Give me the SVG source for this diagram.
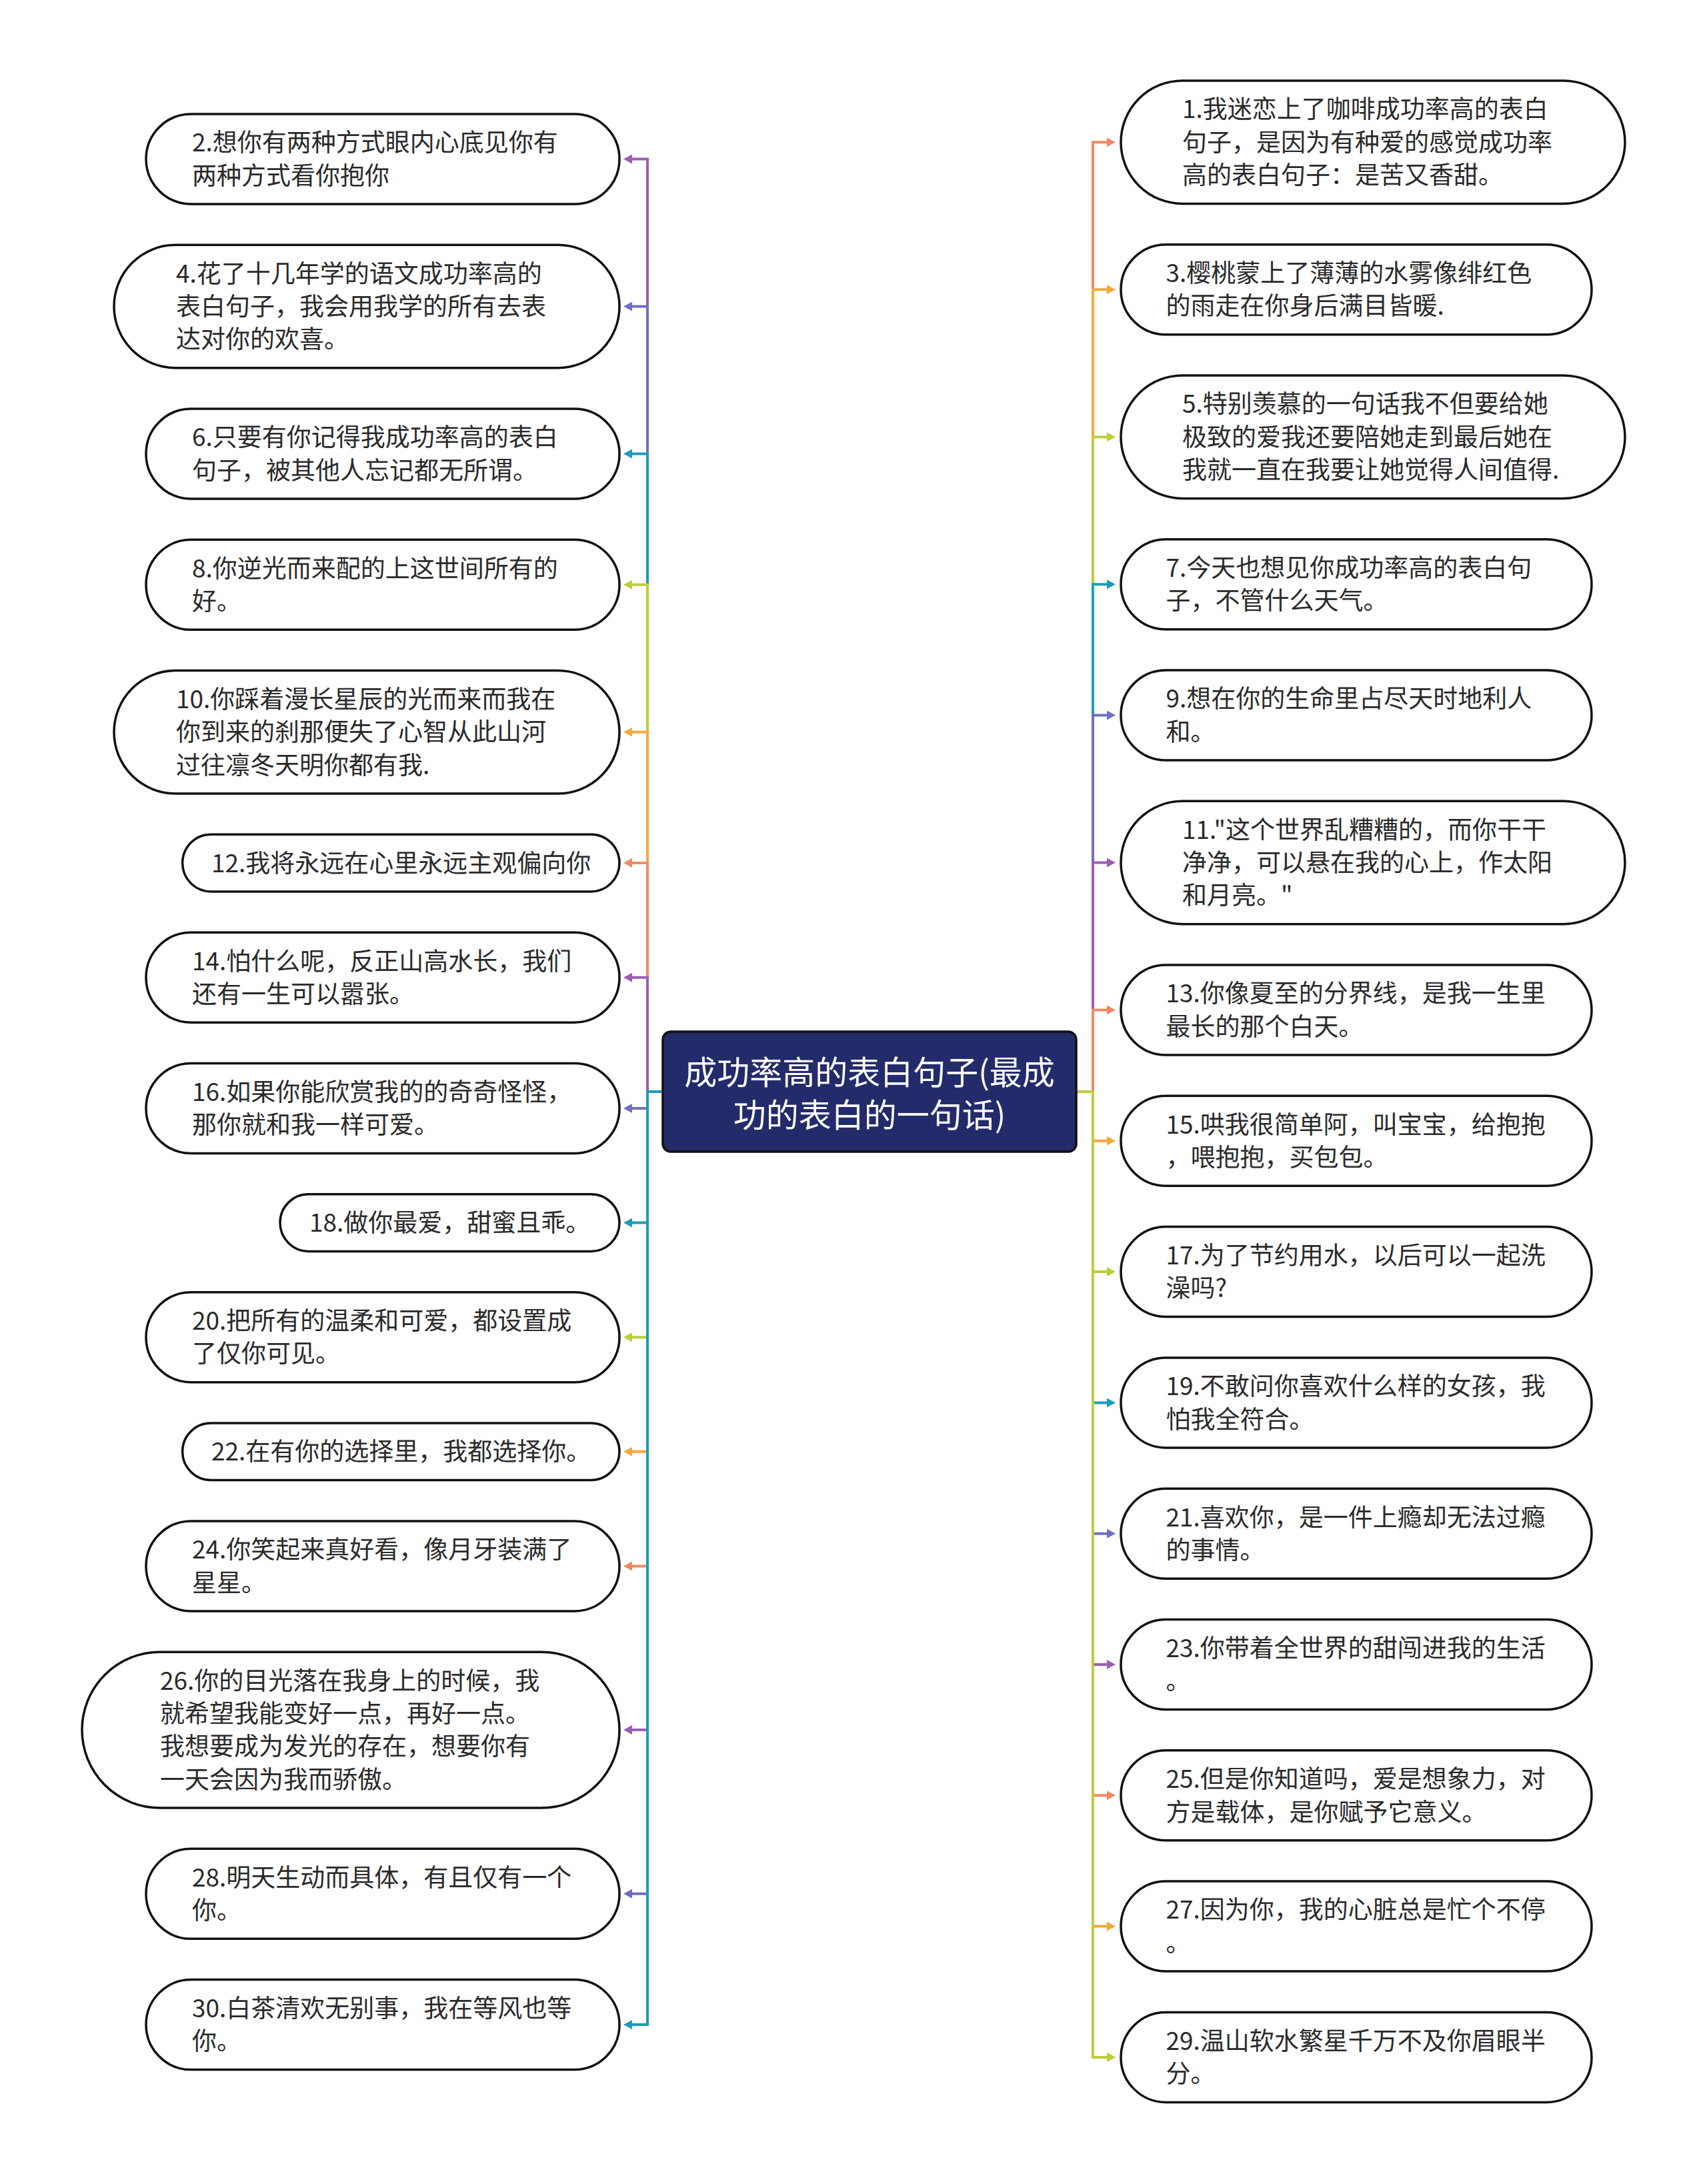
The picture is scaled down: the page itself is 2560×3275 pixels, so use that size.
<svg xmlns="http://www.w3.org/2000/svg" width="2560" height="3275" viewBox="0 0 2560 3275">
<style>
.n{fill:#ffffff;stroke:#111111;stroke-width:3.5}
.t{font-family:"Noto Sans CJK SC","Noto Sans",sans-serif;font-size:37px;fill:#2a2a2a}
.c{fill:none;stroke-width:4;stroke-linejoin:miter}
.root{fill:#232b6b;stroke:#111111;stroke-width:3.5}
.rt{font-family:"Noto Sans CJK SC","Noto Sans",sans-serif;font-size:49px;fill:#ffffff;text-anchor:middle}
.co{stroke:#ef8a63}.or{stroke:#f5a83e}.yg{stroke:#bccd3a}.te{stroke:#1e9bb8}.in{stroke:#6f6fc0}.pu{stroke:#9b5eb3}
</style>
<defs>
<marker id="a-co" markerUnits="userSpaceOnUse" markerWidth="13" markerHeight="14" refX="1" refY="7" orient="auto"><path d="M0,0 L13,7 L0,14 z" fill="#ef8a63"/></marker>
<marker id="a-or" markerUnits="userSpaceOnUse" markerWidth="13" markerHeight="14" refX="1" refY="7" orient="auto"><path d="M0,0 L13,7 L0,14 z" fill="#f5a83e"/></marker>
<marker id="a-yg" markerUnits="userSpaceOnUse" markerWidth="13" markerHeight="14" refX="1" refY="7" orient="auto"><path d="M0,0 L13,7 L0,14 z" fill="#bccd3a"/></marker>
<marker id="a-te" markerUnits="userSpaceOnUse" markerWidth="13" markerHeight="14" refX="1" refY="7" orient="auto"><path d="M0,0 L13,7 L0,14 z" fill="#1e9bb8"/></marker>
<marker id="a-in" markerUnits="userSpaceOnUse" markerWidth="13" markerHeight="14" refX="1" refY="7" orient="auto"><path d="M0,0 L13,7 L0,14 z" fill="#6f6fc0"/></marker>
<marker id="a-pu" markerUnits="userSpaceOnUse" markerWidth="13" markerHeight="14" refX="1" refY="7" orient="auto"><path d="M0,0 L13,7 L0,14 z" fill="#9b5eb3"/></marker>
</defs>
<rect width="2560" height="3275" fill="#ffffff"/>

<g id="connectors">
<path class="c pu" marker-end="url(#a-pu)" d="M994,1637 H971 V238.5 H947"/>
<path class="c in" marker-end="url(#a-in)" d="M994,1637 H971 V459.5 H947"/>
<path class="c te" marker-end="url(#a-te)" d="M994,1637 H971 V680.5 H947"/>
<path class="c yg" marker-end="url(#a-yg)" d="M994,1637 H971 V876.8 H947"/>
<path class="c or" marker-end="url(#a-or)" d="M994,1637 H971 V1097.8 H947"/>
<path class="c co" marker-end="url(#a-co)" d="M994,1637 H971 V1294.1 H947"/>
<path class="c pu" marker-end="url(#a-pu)" d="M994,1637 H971 V1465.7 H947"/>
<path class="c in" marker-end="url(#a-in)" d="M994,1637 H971 V1662 H947"/>
<path class="c te" marker-end="url(#a-te)" d="M994,1637 H971 V1833.6 H947"/>
<path class="c yg" marker-end="url(#a-yg)" d="M994,1637 H971 V2005.2 H947"/>
<path class="c or" marker-end="url(#a-or)" d="M994,1637 H971 V2176.8 H947"/>
<path class="c co" marker-end="url(#a-co)" d="M994,1637 H971 V2348.4 H947"/>
<path class="c pu" marker-end="url(#a-pu)" d="M994,1637 H971 V2594.1 H947"/>
<path class="c in" marker-end="url(#a-in)" d="M994,1637 H971 V2839.8 H947"/>
<path class="c te" marker-end="url(#a-te)" d="M994,1637 H971 V3036.1 H947"/>

<path class="c co" marker-end="url(#a-co)" d="M1614,1637 H1639 V213.2 H1661"/>
<path class="c or" marker-end="url(#a-or)" d="M1614,1637 H1639 V434.2 H1661"/>
<path class="c yg" marker-end="url(#a-yg)" d="M1614,1637 H1639 V655.2 H1661"/>
<path class="c te" marker-end="url(#a-te)" d="M1614,1637 H1639 V876.2 H1661"/>
<path class="c in" marker-end="url(#a-in)" d="M1614,1637 H1639 V1072.5 H1661"/>
<path class="c pu" marker-end="url(#a-pu)" d="M1614,1637 H1639 V1293.5 H1661"/>
<path class="c co" marker-end="url(#a-co)" d="M1614,1637 H1639 V1514.5 H1661"/>
<path class="c or" marker-end="url(#a-or)" d="M1614,1637 H1639 V1710.8 H1661"/>
<path class="c yg" marker-end="url(#a-yg)" d="M1614,1637 H1639 V1907.1 H1661"/>
<path class="c te" marker-end="url(#a-te)" d="M1614,1637 H1639 V2103.4 H1661"/>
<path class="c in" marker-end="url(#a-in)" d="M1614,1637 H1639 V2299.7 H1661"/>
<path class="c pu" marker-end="url(#a-pu)" d="M1614,1637 H1639 V2496 H1661"/>
<path class="c co" marker-end="url(#a-co)" d="M1614,1637 H1639 V2692.3 H1661"/>
<path class="c or" marker-end="url(#a-or)" d="M1614,1637 H1639 V2888.6 H1661"/>
<path class="c yg" marker-end="url(#a-yg)" d="M1614,1637 H1639 V3084.9 H1661"/>
</g>

<g id="root">
<rect class="root" x="994" y="1547" width="620" height="180" rx="12"/>
<text class="rt" x="1304" y="1626">成功率高的表白句子(最成</text>
<text class="rt" x="1304" y="1690">功的表白的一句话)</text>
</g>

<g id="n2"><rect class="n" x="219" y="171" width="710" height="135" rx="67.5"/>
<text class="t" x="288" y="227.3">2.想你有两种方式眼内心底见你有</text><text class="t" x="288" y="276.7">两种方式看你抱你</text></g>
<g id="n4"><rect class="n" x="171" y="367.3" width="758" height="184.4" rx="92.2"/>
<text class="t" x="264" y="423.6">4.花了十几年学的语文成功率高的</text><text class="t" x="264" y="473">表白句子，我会用我学的所有去表</text><text class="t" x="264" y="522.4">达对你的欢喜。</text></g>
<g id="n6"><rect class="n" x="219" y="613" width="710" height="135" rx="67.5"/>
<text class="t" x="288" y="669.3">6.只要有你记得我成功率高的表白</text><text class="t" x="288" y="718.7">句子，被其他人忘记都无所谓。</text></g>
<g id="n8"><rect class="n" x="219" y="809.3" width="710" height="135" rx="67.5"/>
<text class="t" x="288" y="865.6">8.你逆光而来配的上这世间所有的</text><text class="t" x="288" y="915">好。</text></g>
<g id="n10"><rect class="n" x="171" y="1005.6" width="758" height="184.4" rx="92.2"/>
<text class="t" x="264" y="1061.9">10.你踩着漫长星辰的光而来而我在</text><text class="t" x="264" y="1111.3">你到来的刹那便失了心智从此山河</text><text class="t" x="264" y="1160.7">过往凛冬天明你都有我.</text></g>
<g id="n12"><rect class="n" x="273.6" y="1251.3" width="655.4" height="85.6" rx="42.8"/>
<text class="t" x="317" y="1307.6">12.我将永远在心里永远主观偏向你</text></g>
<g id="n14"><rect class="n" x="219" y="1398.2" width="710" height="135" rx="67.5"/>
<text class="t" x="288" y="1454.5">14.怕什么呢，反正山高水长，我们</text><text class="t" x="288" y="1503.9">还有一生可以嚣张。</text></g>
<g id="n16"><rect class="n" x="219" y="1594.5" width="710" height="135" rx="67.5"/>
<text class="t" x="288" y="1650.8">16.如果你能欣赏我的的奇奇怪怪，</text><text class="t" x="288" y="1700.2">那你就和我一样可爱。</text></g>
<g id="n18"><rect class="n" x="420" y="1790.8" width="509" height="85.6" rx="42.8"/>
<text class="t" x="464" y="1847.1">18.做你最爱，甜蜜且乖。</text></g>
<g id="n20"><rect class="n" x="219" y="1937.7" width="710" height="135" rx="67.5"/>
<text class="t" x="288" y="1994">20.把所有的温柔和可爱，都设置成</text><text class="t" x="288" y="2043.4">了仅你可见。</text></g>
<g id="n22"><rect class="n" x="273.6" y="2134" width="655.4" height="85.6" rx="42.8"/>
<text class="t" x="317" y="2190.3">22.在有你的选择里，我都选择你。</text></g>
<g id="n24"><rect class="n" x="219" y="2280.9" width="710" height="135" rx="67.5"/>
<text class="t" x="288" y="2337.2">24.你笑起来真好看，像月牙装满了</text><text class="t" x="288" y="2386.6">星星。</text></g>
<g id="n26"><rect class="n" x="123" y="2477.2" width="806" height="233.8" rx="116.9"/>
<text class="t" x="240" y="2533.5">26.你的目光落在我身上的时候，我</text><text class="t" x="240" y="2582.9">就希望我能变好一点，再好一点。</text><text class="t" x="240" y="2632.3">我想要成为发光的存在，想要你有</text><text class="t" x="240" y="2681.7">一天会因为我而骄傲。</text></g>
<g id="n28"><rect class="n" x="219" y="2772.3" width="710" height="135" rx="67.5"/>
<text class="t" x="288" y="2828.6">28.明天生动而具体，有且仅有一个</text><text class="t" x="288" y="2878">你。</text></g>
<g id="n30"><rect class="n" x="219" y="2968.6" width="710" height="135" rx="67.5"/>
<text class="t" x="288" y="3024.9">30.白茶清欢无别事，我在等风也等</text><text class="t" x="288" y="3074.3">你。</text></g>

<g id="n1"><rect class="n" x="1681" y="121" width="756" height="184.4" rx="92.2"/>
<text class="t" x="1773" y="177.3">1.我迷恋上了咖啡成功率高的表白</text><text class="t" x="1773" y="226.7">句子，是因为有种爱的感觉成功率</text><text class="t" x="1773" y="276.1">高的表白句子：是苦又香甜。</text></g>
<g id="n3"><rect class="n" x="1681" y="366.7" width="706" height="135" rx="67.5"/>
<text class="t" x="1748.5" y="423">3.樱桃蒙上了薄薄的水雾像绯红色</text><text class="t" x="1748.5" y="472.4">的雨走在你身后满目皆暖.</text></g>
<g id="n5"><rect class="n" x="1681" y="563" width="756" height="184.4" rx="92.2"/>
<text class="t" x="1773" y="619.3">5.特别羡慕的一句话我不但要给她</text><text class="t" x="1773" y="668.7">极致的爱我还要陪她走到最后她在</text><text class="t" x="1773" y="718.1">我就一直在我要让她觉得人间值得.</text></g>
<g id="n7"><rect class="n" x="1681" y="808.7" width="706" height="135" rx="67.5"/>
<text class="t" x="1748.5" y="865">7.今天也想见你成功率高的表白句</text><text class="t" x="1748.5" y="914.4">子，不管什么天气。</text></g>
<g id="n9"><rect class="n" x="1681" y="1005" width="706" height="135" rx="67.5"/>
<text class="t" x="1748.5" y="1061.3">9.想在你的生命里占尽天时地利人</text><text class="t" x="1748.5" y="1110.7">和。</text></g>
<g id="n11"><rect class="n" x="1681" y="1201.3" width="756" height="184.4" rx="92.2"/>
<text class="t" x="1773" y="1257.6">11."这个世界乱糟糟的，而你干干</text><text class="t" x="1773" y="1307">净净，可以悬在我的心上，作太阳</text><text class="t" x="1773" y="1356.4">和月亮。"</text></g>
<g id="n13"><rect class="n" x="1681" y="1447" width="706" height="135" rx="67.5"/>
<text class="t" x="1748.5" y="1503.3">13.你像夏至的分界线，是我一生里</text><text class="t" x="1748.5" y="1552.7">最长的那个白天。</text></g>
<g id="n15"><rect class="n" x="1681" y="1643.3" width="706" height="135" rx="67.5"/>
<text class="t" x="1748.5" y="1699.6">15.哄我很简单阿，叫宝宝，给抱抱</text><text class="t" x="1748.5" y="1749">，喂抱抱，买包包。</text></g>
<g id="n17"><rect class="n" x="1681" y="1839.6" width="706" height="135" rx="67.5"/>
<text class="t" x="1748.5" y="1895.9">17.为了节约用水，以后可以一起洗</text><text class="t" x="1748.5" y="1945.3">澡吗?</text></g>
<g id="n19"><rect class="n" x="1681" y="2035.9" width="706" height="135" rx="67.5"/>
<text class="t" x="1748.5" y="2092.2">19.不敢问你喜欢什么样的女孩，我</text><text class="t" x="1748.5" y="2141.6">怕我全符合。</text></g>
<g id="n21"><rect class="n" x="1681" y="2232.2" width="706" height="135" rx="67.5"/>
<text class="t" x="1748.5" y="2288.5">21.喜欢你，是一件上瘾却无法过瘾</text><text class="t" x="1748.5" y="2337.9">的事情。</text></g>
<g id="n23"><rect class="n" x="1681" y="2428.5" width="706" height="135" rx="67.5"/>
<text class="t" x="1748.5" y="2484.8">23.你带着全世界的甜闯进我的生活</text><text class="t" x="1748.5" y="2534.2">。</text></g>
<g id="n25"><rect class="n" x="1681" y="2624.8" width="706" height="135" rx="67.5"/>
<text class="t" x="1748.5" y="2681.1">25.但是你知道吗，爱是想象力，对</text><text class="t" x="1748.5" y="2730.5">方是载体，是你赋予它意义。</text></g>
<g id="n27"><rect class="n" x="1681" y="2821.1" width="706" height="135" rx="67.5"/>
<text class="t" x="1748.5" y="2877.4">27.因为你，我的心脏总是忙个不停</text><text class="t" x="1748.5" y="2926.8">。</text></g>
<g id="n29"><rect class="n" x="1681" y="3017.4" width="706" height="135" rx="67.5"/>
<text class="t" x="1748.5" y="3073.7">29.温山软水繁星千万不及你眉眼半</text><text class="t" x="1748.5" y="3123.1">分。</text></g>
</svg>
